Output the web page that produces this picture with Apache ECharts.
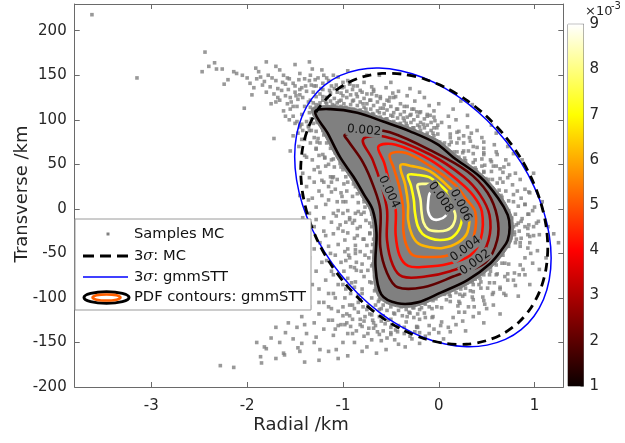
<!DOCTYPE html>
<html><head><meta charset="utf-8">
<script src="https://cdn.jsdelivr.net/npm/echarts@6/dist/echarts.min.js"></script>
<style>html,body{margin:0;padding:0;background:#fff}#c{width:625px;height:443px}</style>
</head><body><div id="c"></div>
<script>
// ---------------- data ----------------
const xTicks = [-3, -2, -1, 0, 1];
const yTicks = [-200, -150, -100, -50, 0, 50, 100, 150, 200];
const colorbarLevels = [1, 2, 3, 4, 5, 6, 7, 8, 9]; // x10^-3

// Monte Carlo samples (saturated core drawn as a region)
const samplesCore = [[-1.33,112],[-1.13,116],[-0.85,112],[-0.58,102],[-0.29,91],[0.0,77],[0.18,61],[0.46,38],[0.66,13],[0.76,-7],[0.78,-21],[0.76,-36],[0.7,-47],[0.57,-64],[0.32,-84],[0.03,-98],[-0.22,-109],[-0.44,-110],[-0.63,-99],[-0.69,-66],[-0.68,-27],[-0.72,-2],[-0.81,14],[-0.92,34],[-1.06,56],[-1.2,84]];
const samplesBand = [
[-1.34,114],[-1.34,122],[-1.31,119],[-1.31,131],[-1.28,117],[-1.28,126],[-1.28,138],[-1.24,119],[-1.24,129],[-1.21,122],[-1.21,134],[-1.17,118],[-1.17,125],[-1.17,147],[-1.13,121],[-1.13,130],[-1.09,116],[-1.09,124],[-1.09,135],[-1.06,119],[-1.06,131],[-1.02,115],[-1.02,122],[-1.02,130],[-0.99,118],[-0.99,137],[-0.96,113],[-0.96,125],[-0.96,132],[-0.92,117],[-0.92,128],[-0.89,112],[-0.89,122],[-0.89,138],[-0.85,116],[-0.85,126],[-0.82,111],[-0.82,120],[-0.82,133],[-0.78,114],[-0.78,124],[-0.75,108],[-0.75,118],[-0.75,129],[-0.71,112],[-0.71,122],[-0.68,106],[-0.68,116],[-0.68,132],[-0.64,110],[-0.64,120],[-0.61,103],[-0.61,113],[-0.61,126],[-0.57,107],[-0.57,117],[-0.54,101],[-0.54,111],[-0.54,122],[-0.5,105],[-0.5,115],[-0.47,98],[-0.47,108],[-0.47,125],[-0.43,102],[-0.43,112],[-0.4,96],[-0.4,106],[-0.4,118],[-0.36,99],[-0.36,109],[-0.33,93],[-0.33,103],[-0.33,115],[-0.29,97],[-0.29,106],[-0.26,91],[-0.26,100],[-0.26,112],[-0.22,94],[-0.22,104],[-0.19,88],[-0.19,97],[-0.19,109],[-0.15,91],[-0.15,101],[-0.12,85],[-0.12,94],[-0.12,106],[-0.08,88],[-0.08,97],[-0.05,82],[-0.05,91],[-0.05,103],[-0.01,84],[-0.01,94],
[0.06,74],[0.12,84],[0.13,75],[0.21,87],[0.12,64],[0.19,74],[0.19,64],[0.26,74],[0.34,85],[0.21,58],[0.26,65],[0.27,57],[0.36,70],[0.28,50],[0.36,62],[0.36,52],[0.47,68],[0.38,46],[0.45,56],[0.45,48],[0.40,41],[0.47,41],[0.55,53],[0.61,61],[0.49,34],[0.55,42],[0.56,33],[0.64,45],[0.56,23],[0.64,34],[0.63,21],[0.74,38],[0.66,13],[0.70,20],[0.73,9],[0.78,16],[0.73,-2],[0.83,3],
[0.80,-6],[0.94,-6],[0.76,-11],[0.87,-11],[0.83,-16],[1.02,-16],[0.78,-20],[0.90,-20],[0.84,-25],[0.75,-25],[0.79,-29],[0.93,-29],[0.75,-33],[0.86,-33],[0.80,-38],[0.95,-38],[0.73,-42],[0.85,-42],
[0.67,-52],[0.73,-62],[0.66,-61],[0.61,-55],[0.60,-63],[0.69,-76],[0.54,-66],[0.60,-74],[0.53,-74],[0.64,-90],[0.45,-71],[0.53,-83],[0.43,-78],[0.51,-89],[0.42,-85],[0.38,-79],[0.36,-85],[0.46,-99],[0.29,-83],[0.36,-93],[0.28,-89],[0.35,-99],[0.23,-90],[0.27,-96],[0.22,-96],[0.31,-110],[0.13,-91],[0.21,-104],[0.12,-98],[0.20,-109],[0.06,-96],[0.12,-104],
[-0.02,-98],[-0.02,-110],[-0.06,-103],[-0.06,-121],[-0.10,-100],[-0.10,-110],[-0.14,-107],[-0.14,-122],[-0.18,-111],[-0.18,-103],[-0.22,-107],[-0.22,-118],[-0.22,-133],[-0.26,-111],[-0.26,-122],[-0.30,-108],[-0.30,-117],[-0.34,-113],[-0.34,-127],[-0.38,-109],[-0.38,-120],[-0.42,-114],[-0.42,-131],[-0.46,-107],[-0.46,-118],[-0.50,-110],[-0.50,-124],[-0.54,-104],[-0.54,-114],[-0.58,-108],[-0.58,-120],[-0.62,-102],[-0.62,-113],
[-0.66,-90],[-0.80,-90],[-0.70,-83],[-0.91,-83],[-0.67,-76],[-0.78,-76],[-0.74,-69],[-0.86,-69],[-0.69,-62],[-0.80,-62],[-0.73,-55],[-0.93,-55],[-0.70,-48],[-0.82,-48],[-0.75,-41],[-0.87,-41],[-0.68,-34],[-0.79,-34],[-0.72,-27],[-0.95,-27],[-0.70,-20],[-0.82,-20],[-0.76,-13],[-0.88,-13],[-0.70,-6],[-0.81,-6],
[-0.77,2],[-0.87,-5],[-0.84,7],[-0.78,11],[-0.85,17],[-1.0,8],[-0.87,25],[-0.96,20],[-0.95,30],[-1.12,19],[-0.93,40],[-1.06,33],[-1.0,44],[-1.13,36],[-1.09,47],[-1.03,51],[-1.10,56],[-1.26,47],[-1.10,68],[-1.21,61],[-1.17,74],[-1.28,67],[-1.20,83],[-1.26,79],[-1.28,87],[-1.43,78],[-1.27,97],[-1.36,92],[-1.33,101],[-1.45,94],
[-0.66,-108],[-0.7,-100],[-0.75,-113],[-0.8,-95],[-0.84,-105],[-0.77,-121],[-0.88,-112],[-0.93,-120],[-0.69,-125],[-0.62,-121],[-0.56,-129],[-0.82,-130],[-0.96,-128],[-0.73,-134],[-1.0,-110],[-0.9,-140],[-0.64,-138],[-0.5,-139]
];
const samplesNearCore = [
[-1.25,116],[-1.21,126],[-1.18,120],[-1.14,133],[-1.11,117],[-1.07,139],[-1.04,121],[-1.0,127],[-0.97,114],[-0.93,141],[-0.9,121],[-0.86,129],[-0.83,110],[-0.79,118],[-0.76,112],[-0.72,122],[-0.69,107],[-0.65,127],[-0.62,108],[-0.58,113],[-0.55,101],[-0.51,125],[-0.48,104],[-0.44,112],[-0.41,95],[-0.37,102],[-0.34,96],[-0.3,105],[-0.27,91],[-0.23,109],[-0.2,92],[-0.16,95],[-0.13,83],[-0.09,105],[-0.06,85],[-0.02,91],[0.01,75],[0.12,80],[0.11,72],[0.21,79],[0.16,64],[0.32,80],[0.25,63],[0.31,65],[0.28,54],[0.47,75],[0.38,55],[0.47,61],[0.39,44],[0.48,49],[0.47,42],[0.57,48],[0.52,33],[0.68,47],[0.61,29],[0.67,30],[0.65,15],[0.94,19],[0.78,8],[0.9,5],
[0.76,-10],[0.86,-14],[0.81,-18],[0.93,-22],[0.79,-26],[0.99,-30],[0.81,-34],[0.85,-38],[0.72,-42],[0.84,-74],[0.69,-61],[0.72,-73],[0.58,-61],[0.61,-73],[0.54,-70],[0.58,-83],[0.47,-74],[0.57,-94],[0.44,-82],[0.44,-89],[0.35,-82],[0.48,-107],[0.33,-92],[0.36,-102],[0.22,-88],[0.25,-98],[0.18,-94],[0.22,-106],[0.11,-96],[0.21,-116],[0.08,-102],
[0.03,-111],[-0.03,-101],[0.02,-131],[-0.07,-112],[-0.07,-122],[-0.15,-106],[-0.15,-117],[-0.2,-113],[-0.2,-124],[-0.27,-111],[-0.23,-133],[-0.31,-116],[-0.33,-121],[-0.39,-110],[-0.43,-138],[-0.47,-117],[-0.53,-125],[-0.53,-105],[-0.6,-112],[-0.63,-104],[-0.74,-109],[-0.67,-92],[-0.82,-102],[-0.72,-82],
[-0.81,-70],[-0.7,-64],[-0.97,-58],[-0.77,-52],[-0.87,-46],[-0.69,-40],[-0.78,-34],[-0.72,-28],[-0.85,-22],[-0.72,-16],[-0.93,-10],[-0.78,-4],[-0.84,-3],[-0.78,8],[-1.05,-2],[-0.9,14],[-1.01,14],[-0.89,28],[-0.99,28],[-0.97,36],[-1.11,35],[-1.02,47],[-1.24,41],[-1.12,55],[-1.19,57],[-1.13,68],[-1.38,58],[-1.24,74],[-1.34,74],[-1.21,88],[-1.33,88],[-1.31,96],[-1.43,95],
[-0.72,-118],[-0.78,-126],[-0.66,-131],[-0.58,-137],[-0.5,-133],[-0.62,-141],[-0.84,-116],[-0.9,-124],[-0.86,-137],[-0.96,-118],[-1.02,-130],[-0.74,-140],[-0.54,-145],[-0.36,-140],[-0.28,-146],[-0.14,-143],[-0.9,-108],[-0.98,-130],[-1.08,-135],[-1.12,-112],[-0.8,-132],[-0.7,-147],[-0.46,-147],[-0.2,-139],[0.0,-139],[0.12,-138]
];
const samplesOuter = [
[-1.45,128],[-1.33,139],[-1.21,141],[-1.12,138],[-1.01,136],[-0.9,134],[-0.8,131],[-0.7,129],[-0.61,124],[-0.52,121],[-0.45,126],[-0.36,115],[-0.28,112],[-0.2,108],[-0.12,104],[-0.04,99],[0.03,97],[0.11,92],[0.19,86],[0.26,82],[0.33,76],[0.4,69],[0.47,63],[0.54,55],[0.6,48],[0.67,41],[0.72,35],[0.77,27],[0.82,20],[0.86,12],[0.9,5],[0.93,-6],[0.94,-18],[0.95,-31],[0.93,-44],[0.9,-55],[0.85,-63],[0.79,-72],[0.72,-80],[0.64,-88],[0.56,-96],[0.47,-103],[0.37,-110],[0.27,-116],[0.15,-122],[0.03,-127],[-0.1,-131],[-0.23,-132],[-0.36,-133],[-0.49,-130],[-0.6,-126],[-0.7,-119],[-0.79,-110],[-0.84,-97],[-0.87,-82],[-0.88,-66],[-0.87,-50],[-0.88,-33],[-0.9,-16],[-0.95,-2],[-1.02,18],[-1.1,36],[-1.19,58],[-1.27,75],[-1.36,93],[-1.43,106],
[-1.55,125],[-1.5,138],[-1.4,146],[-1.05,148],[-0.78,142],[-0.55,136],[-0.33,127],[-0.1,116],[0.1,104],[0.3,92],[0.45,80],[0.6,64],[0.73,50],[0.85,33],[0.95,18],[1.0,2],[1.04,-14],[1.05,-29],[1.03,-47],[0.98,-61],[0.9,-74],[0.8,-86],[0.7,-97],[0.57,-108],[0.42,-117],[0.25,-126],[0.1,-133],[-0.1,-140],[-0.3,-143],[-0.5,-141],[-0.68,-134],[-0.82,-124],[-0.93,-108],[-0.97,-90],[-0.99,-70],[-0.98,-48],[-1.0,-25],[-1.07,-8],[-1.15,10],[-1.22,32],[-1.32,55],[-1.4,78],[-1.5,96],
[-1.6,104],[-1.22,156],[-0.62,150],[-0.2,131],[0.23,121],[0.35,117],[0.55,94],[0.72,70],[0.87,55],[0.99,40],[1.08,8],[1.14,-20],[1.2,-28],[1.25,-38],[1.12,-55],[1.05,-68],[0.95,-85],[0.83,-98],[0.64,-118],[0.47,-128],[0.28,-137],[0.05,-146],[-0.2,-151],[-0.42,-152],[-0.6,-148],[-0.78,-143],[-0.92,-132],[-1.05,-115],[-1.1,-95],[-1.1,-74],[-1.13,-50],[-1.18,-30],[-1.28,-12],[-1.32,12],[-1.42,40],[-1.55,65],[-1.72,79],[-1.66,122],[-2.03,113],
[-0.95,-140],[-1.0,-150],[-1.05,-131],[-1.1,-142],[-1.15,-125],[-1.2,-135],[-1.25,-118],[-1.3,-128],[-1.35,-110],[-1.38,-140],[-1.43,-121],[-1.48,-133],[-1.52,-146],[-1.57,-128],[-1.6,-139],[-1.66,-150],[-1.7,-133],[-1.75,-145],[-1.8,-157],[-1.9,-150],[-1.15,-160],[-1.3,-150],[-1.2,-105],[-1.0,-120],[-0.88,-150],[-0.75,-155],[-1.45,-160],[-1.62,-162],
[-2.28,-176],[-2.14,-178],[-1.86,-166],[-1.85,-173],[-1.82,-155],[-1.61,-164],[-1.47,-156],[-1.43,-151],[-1.4,-130],[-1.28,-144],[-1.24,-158],[-1.11,-125],[-1.07,-158],
[-3.62,218],[-3.15,147],[-2.44,176],[-2.47,154],[-2.34,164],[-2.32,157],[-2.26,157],[-2.24,140],[-2.14,154],[-2.11,152],[-1.93,136],[-1.91,158],[-1.88,154],[-1.86,148],[-1.82,143],[-1.76,137],[-1.66,156],[-1.63,142],[-1.57,134],[-1.32,157],
[-2.0,147],[-1.97,141],[-1.78,150],[-1.72,129],[-1.7,144],[-1.68,135],[-1.6,127],[-1.58,147],[-1.54,120],[-1.52,141],[-1.5,131],[-1.47,123],[-1.46,145],[-1.43,136],[-1.4,115],[-1.38,132],[-1.35,144],[-1.3,138],[-1.26,147],[-1.2,150],[-1.15,144],[-1.1,150],[-1.0,142],[-0.93,140],[-0.85,138],[-0.68,134],[-0.48,130],
[-1.55,112],[-1.52,104],[-1.48,98],[-1.45,92],[-1.58,118],[-1.62,110],[-1.42,88],[-1.47,85],[-1.38,98],[-1.35,88],[-1.3,80],[-1.28,68],[-1.25,60],[-1.18,48],[-1.12,30],[-1.08,22],
[-0.86,-60],[-0.94,-52],[-0.85,-30],[-0.93,-12],[-0.97,8],[-1.05,-40],[-1.02,-60],[-0.95,-78],[-0.92,-95],[-1.2,-10],[-1.25,20],[-1.17,-58],[-1.05,-85],[-0.98,-100],[-0.68,-128],[-0.45,-136],[-0.25,-138],[-0.05,-135],[0.18,-130],[0.36,-121],[0.5,-112],[0.68,-95],[0.78,-80],[0.88,-68],[0.96,-50],[0.99,-20],[0.98,-2],[0.9,22],[0.8,40],[0.7,55],[0.58,72],[0.4,88],[0.18,100],[-0.05,110],[-0.25,121],[-0.42,132],[-0.7,137],[-0.95,144],
[-1.95,128],[-1.9,146],[-1.84,139],[-1.8,131],[-1.74,147],[-1.7,120],[-1.64,133],[-1.6,140],[-1.56,146],[-1.52,115],[-1.49,127],[-1.45,134],[-1.42,125],[-1.39,138],[-1.36,120],[-1.34,150],[-1.29,145],[-1.23,135],[-1.17,125],[-1.62,150],[-1.68,125],[-1.75,118],[-2.05,150],[-2.2,145],[-2.4,160],[-1.45,152],
[-0.98,-35],[-1.03,-18],[-1.1,-28],[-1.15,-42],[-1.08,-52],[-1.2,-25],[-1.24,-38],[-1.12,-70],[-1.22,-60],[-1.3,-45],[-1.18,-80],[-1.28,-70],[-1.35,-55],[-1.25,-90],[-1.15,-95],[-1.32,-85],[-1.4,-30],[-1.35,-5],[-1.3,-20],[-1.18,5],[-1.1,-5],[-1.22,15],[-1.15,25],[-1.3,30],[-1.38,25],[-1.45,15],[-1.2,30],[-1.06,8],[-1.0,-5],[-0.95,-45],[-0.92,-65],[-1.0,-85],[-0.88,-88],[-1.08,-100],[-1.15,-110],[-1.25,-105],[-0.97,-15],[-1.05,-22],[-1.12,-15],[-1.28,2],[-1.36,10],[-1.42,-10],[-1.08,63],[-1.15,50],[-1.3,44],[-1.35,35],[-1.4,60],[-1.46,70],[-1.52,82],[-1.35,108],[-1.48,115],[-1.56,100],
[-0.35,-155],[-0.55,-158],[-0.8,-160],[-0.95,-165],[-0.65,-162],[-1.05,-168],[-1.25,-170],[-1.4,-172],[-1.7,-168],
[-0.3,135],[-0.15,125],[0.0,118],[0.15,112],[-0.5,142],[-0.75,150],[-0.95,155],[-1.35,165],[-1.5,162],[-1.7,160],[-1.8,165],[0.3,105],[0.6,85],[0.78,62]
];

// 3-sigma boundaries
const sigmaMC = [[1.138,-43.7],[1.118,-68.3],[1.060,-90.9],[0.965,-110.7],[0.836,-127.2],[0.677,-139.8],[0.493,-148.1],[0.290,-152.0],[0.072,-151.2],[-0.151,-145.8],[-0.375,-136.0],[-0.592,-122.1],[-0.796,-104.5],[-0.980,-83.6],[-1.139,-60.3],[-1.268,-35.1],[-1.363,-8.8],[-1.421,17.7],[-1.441,43.7],[-1.421,68.3],[-1.363,90.9],[-1.268,110.7],[-1.139,127.2],[-0.980,139.8],[-0.796,148.1],[-0.592,152.0],[-0.375,151.2],[-0.151,145.8],[0.072,136.0],[0.290,122.1],[0.493,104.5],[0.677,83.6],[0.836,60.3],[0.965,35.1],[1.060,8.8],[1.118,-17.7]];
const sigmaGmmSTT = [[1.173,-55.3],[1.153,-79.7],[1.093,-101.7],[0.994,-120.5],[0.860,-135.6],[0.695,-146.6],[0.504,-153.0],[0.292,-154.8],[0.067,-151.8],[-0.166,-144.1],[-0.398,-132.0],[-0.623,-115.9],[-0.835,-96.2],[-1.026,-73.5],[-1.191,-48.5],[-1.325,-22.0],[-1.424,5.2],[-1.484,32.4],[-1.504,58.5],[-1.484,83.0],[-1.424,104.9],[-1.325,123.8],[-1.191,138.9],[-1.026,149.8],[-0.835,156.3],[-0.623,158.1],[-0.398,155.0],[-0.166,147.4],[0.067,135.3],[0.292,119.2],[0.504,99.4],[0.695,76.7],[0.860,51.8],[0.994,25.3],[1.093,-2.0],[1.153,-29.1]];

// PDF contours (gmmSTT), levels 1..9 x10^-3
const pdfLevel1 = [[-1.29,109],[-1.13,112],[-0.85,108],[-0.58,98],[-0.30,87],[-0.02,73],[0.15,58],[0.43,36],[0.62,12],[0.72,-7],[0.74,-21],[0.72,-35],[0.67,-44],[0.54,-61],[0.30,-80],[0.02,-94],[-0.22,-105],[-0.43,-106],[-0.60,-96],[-0.66,-65],[-0.65,-27],[-0.69,-1],[-0.78,16],[-0.89,36],[-1.03,58],[-1.16,85]];
const pdfLevel2 = [[-0.98,83],[-0.72,88],[-0.51,86],[-0.09,66],[0.30,42],[0.51,18],[0.61,-9],[0.61,-35],[0.49,-60],[0.15,-76],[-0.16,-88],[-0.43,-88],[-0.54,-72],[-0.61,-43],[-0.61,-1],[-0.68,25],[-0.79,52],[-0.95,77]];
const pdfLevel3 = [[-0.79,78],[-0.56,81],[-0.09,61],[0.26,36],[0.43,16],[0.53,-7],[0.52,-35],[0.40,-57],[0.12,-70],[-0.14,-76],[-0.38,-76],[-0.48,-63],[-0.54,-35],[-0.54,-1],[-0.60,27],[-0.69,55]];
const pdfLevel4 = [[-0.63,70],[-0.45,72],[-0.09,55],[0.22,30],[0.36,15],[0.45,-3],[0.44,-33],[0.33,-52],[0.09,-62],[-0.14,-65],[-0.32,-64],[-0.41,-52],[-0.45,-29],[-0.45,-1],[-0.51,27],[-0.57,52]];
const pdfLevel5 = [[-0.51,61],[-0.35,63],[-0.09,48],[0.17,27],[0.28,12],[0.38,-3],[0.37,-29],[0.28,-44],[0.07,-53],[-0.11,-54],[-0.27,-52],[-0.34,-40],[-0.37,-24],[-0.37,-1],[-0.41,24],[-0.47,46]];
const pdfLevel6 = [[-0.40,49],[-0.28,48],[-0.09,42],[0.14,21],[0.23,10],[0.31,-3],[0.30,-26],[0.20,-38],[0.04,-44],[-0.09,-43],[-0.21,-39],[-0.28,-29],[-0.32,-12],[-0.32,5],[-0.35,27]];
const pdfLevel7 = [[-0.32,38],[-0.21,38],[-0.09,35],[0.10,18],[0.17,7],[0.24,-5],[0.22,-21],[0.14,-32],[0.02,-35],[-0.09,-33],[-0.17,-28],[-0.22,-19],[-0.25,-3],[-0.26,10],[-0.29,26]];
const pdfLevel8 = [[-0.22,27],[-0.14,28],[-0.07,27],[0.07,14],[0.17,-5],[0.15,-18],[0.08,-24],[-0.03,-25],[-0.11,-23],[-0.16,-15],[-0.18,-3],[-0.19,10],[-0.21,19]];
const pdfLevel9 = [[-0.09,18],[-0.03,16],[0.05,10],[0.09,-1],[0.07,-8],[0.00,-12],[-0.07,-11],[-0.11,-3],[-0.11,8]];

// contour labels: [x, y, text]
const contourLabels = [[-0.78,88,'0.002'],[-0.52,19,'0.004'],[0.02,13,'0.008'],[0.23,4,'0.006'],[0.28,-45,'0.004'],[0.38,-60,'0.002']];

// ---------------- styling ----------------
const FONT = '"DejaVu Sans", "Liberation Sans", sans-serif';
const TXT = '#262626';
const AX = '#6a6a6a';
const GRAY = '#808080';
const contourAngles = [-5, -65, -55, -63, 36, 36];
// MATLAB hot(64) colour for each level within CLim [1,9]
function hot(level) {
  const idx = Math.min(64, Math.floor((level - 1) / 8 * 64) + 1);
  const r = Math.min(1, idx / 24), g = Math.max(0, Math.min(1, (idx - 24) / 24)), b = Math.max(0, (idx - 48) / 16);
  const h = v => ('0' + Math.round(v * 255).toString(16)).slice(-2);
  return '#' + h(r) + h(g) + h(b);
}
const pdfLevels = [pdfLevel1, pdfLevel2, pdfLevel3, pdfLevel4, pdfLevel5, pdfLevel6, pdfLevel7, pdfLevel8, pdfLevel9];

function polySeries(name, pts, style, z, smooth) {
  return {
    type: 'custom', name, xAxisIndex: 0, yAxisIndex: 0, z, silent: true,
    data: [[0, 0]],
    renderItem: (params, api) => ({
      type: 'polygon',
      shape: { points: pts.map(p => api.coord(p)), smooth: smooth },
      style
    })
  };
}

const series = [];
series.push(polySeries('core', samplesCore, { fill: GRAY, stroke: GRAY, lineWidth: 1 }, 1, 0.3));
series.push({
  type: 'scatter', name: 'Samples MC', xAxisIndex: 0, yAxisIndex: 0, data: samplesBand.concat(samplesNearCore, samplesOuter),
  symbol: 'rect', symbolSize: 3.6, itemStyle: { color: GRAY }, z: 1, silent: true, large: false
});
pdfLevels.forEach((pts, i) => {
  series.push(polySeries('pdf' + (i + 1), pts, { fill: 'none', stroke: hot(colorbarLevels[i]), lineWidth: 2.6 }, 3, 0.35));
});
series.push(polySeries('3sigma gmmSTT', sigmaGmmSTT, { fill: 'none', stroke: '#0000ff', lineWidth: 1.5 }, 4, 0.3));
series.push(polySeries('3sigma MC', sigmaMC, { fill: 'none', stroke: '#000000', lineWidth: 2.8, lineDash: [9, 6] }, 5, 0.3));
series.push({
  type: 'custom', name: 'labels', xAxisIndex: 0, yAxisIndex: 0, z: 6, silent: true,
  data: contourLabels.map(l => [l[0], l[1]]),
  renderItem: (params, api) => {
    const i = params.dataIndex;
    const c = api.coord([api.value(0), api.value(1)]);
    return {
      type: 'text', x: c[0], y: c[1], rotation: contourAngles[i] * Math.PI / 180,
      style: { text: contourLabels[i][2], fill: '#111', font: '12px ' + FONT,
        align: 'center', verticalAlign: 'middle', textAlign: 'center', textVerticalAlign: 'middle',
        backgroundColor: GRAY, padding: [0, 1] }
    };
  }
});
// colorbar
series.push({ type: 'bar', xAxisIndex: 2, yAxisIndex: 2, stack: 'cb', data: [colorbarLevels[0]], barWidth: '100%', itemStyle: { color: 'transparent' }, silent: true });
series.push({ type: 'bar', xAxisIndex: 2, yAxisIndex: 2, stack: 'cb', data: [colorbarLevels[8] - colorbarLevels[0]], barWidth: '100%', silent: true,
  itemStyle: { color: new echarts.graphic.LinearGradient(0, 0, 0, 1, [
    { offset: 0, color: '#ffffff' }, { offset: 0.25, color: '#ffff00' }, { offset: 0.625, color: '#ff0000' }, { offset: 1, color: '#0b0000' }]) } });

const axisCommon = {
  axisLine: { show: true, onZero: false, lineStyle: { color: AX, width: 1 } },
  splitLine: { show: false }
};
const tickX = { show: true, inside: true, length: 5, customValues: xTicks, lineStyle: { color: AX } };
const tickY = { show: true, inside: true, length: 5, customValues: yTicks, lineStyle: { color: AX } };
const lab = { fontFamily: FONT, fontSize: 15, color: TXT };

const option = {
  animation: false,
  grid: [
    { left: 74.7, right: 61.7, top: 4, bottom: 56 },
    { left: 568, top: 24.3, width: 15.5, height: 361.7, show: true, borderColor: AX, borderWidth: 1 }
  ],
  xAxis: [
    Object.assign({ type: 'value', gridIndex: 0, min: -3.8, max: 1.3, position: 'bottom', axisTick: tickX,
      axisLabel: Object.assign({ margin: 12, customValues: xTicks }, lab) }, axisCommon),
    Object.assign({ type: 'value', gridIndex: 0, min: -3.8, max: 1.3, position: 'top', axisTick: tickX,
      axisLabel: { show: false } }, axisCommon),
    { type: 'category', gridIndex: 1, data: ['cb'], show: false }
  ],
  yAxis: [
    Object.assign({ type: 'value', gridIndex: 0, min: -200, max: 230, position: 'left', axisTick: tickY,
      axisLabel: Object.assign({ margin: 8, customValues: yTicks }, lab) }, axisCommon),
    Object.assign({ type: 'value', gridIndex: 0, min: -200, max: 230, position: 'right', axisTick: tickY,
      axisLabel: { show: false } }, axisCommon),
    { type: 'value', gridIndex: 1, min: 1, max: 9, interval: 1, position: 'right',
      axisLine: { show: true, lineStyle: { color: AX } },
      axisTick: { show: true, inside: true, length: 3, lineStyle: { color: AX } },
      axisLabel: Object.assign({ margin: 6 }, lab), splitLine: { show: false } }
  ],
  series,
  graphic: [
    { type: 'text', x: 301, y: 425, z: 50, style: { text: 'Radial /km', font: '18px ' + FONT, fill: TXT, align: 'center', verticalAlign: 'middle', textAlign: 'center', textVerticalAlign: 'middle' } },
    { type: 'text', x: 22, y: 194, rotation: Math.PI / 2, z: 50, style: { text: 'Transverse /km', font: '18px ' + FONT, fill: TXT, align: 'center', verticalAlign: 'middle', textAlign: 'center', textVerticalAlign: 'middle' } },
    { type: 'text', x: 585, y: 12, z: 50, style: { text: '×10', font: '13px ' + FONT, fill: TXT, align: 'left', verticalAlign: 'middle', textAlign: 'left', textVerticalAlign: 'middle' } },
    { type: 'text', x: 611, y: 6, z: 50, style: { text: '-3', font: '10px ' + FONT, fill: TXT, align: 'left', verticalAlign: 'middle', textAlign: 'left', textVerticalAlign: 'middle' } },
    // legend
    { type: 'rect', z: 60, shape: { x: 75, y: 219, width: 236, height: 91 }, style: { fill: '#ffffff', stroke: '#9a9a9a', lineWidth: 1 } },
    { type: 'rect', z: 61, shape: { x: 106.5, y: 232.5, width: 3, height: 3 }, style: { fill: GRAY } },
    { type: 'line', z: 61, shape: { x1: 83, y1: 256, x2: 128, y2: 256 }, style: { stroke: '#000', lineWidth: 3, lineDash: [11, 6] } },
    { type: 'line', z: 61, shape: { x1: 83, y1: 277, x2: 128, y2: 277 }, style: { stroke: '#0000ff', lineWidth: 1.5 } },
    { type: 'ellipse', z: 61, shape: { cx: 106.5, cy: 297.5, rx: 22.5, ry: 5.8 }, style: { fill: '#fff', stroke: '#000', lineWidth: 3 } },
    { type: 'ellipse', z: 62, shape: { cx: 106.5, cy: 297.5, rx: 14, ry: 3 }, style: { fill: '#fff', stroke: '#ff6000', lineWidth: 2.5 } },
    { type: 'text', x: 134, y: 234, z: 62, style: { text: 'Samples MC', font: '14.7px ' + FONT, fill: '#111', align: 'left', verticalAlign: 'middle', textAlign: 'left', textVerticalAlign: 'middle' } },
    { type: 'text', x: 134, y: 256, z: 62, style: { text: '3{s|σ}: MC', font: '14.7px ' + FONT, fill: '#111', align: 'left', verticalAlign: 'middle', textAlign: 'left', textVerticalAlign: 'middle',
      rich: { s: { fontStyle: 'italic', fontFamily: 'DejaVu Serif', fontSize: 14.7, fill: '#111' } } } },
    { type: 'text', x: 134, y: 277, z: 62, style: { text: '3{s|σ}: gmmSTT', font: '14.7px ' + FONT, fill: '#111', align: 'left', verticalAlign: 'middle', textAlign: 'left', textVerticalAlign: 'middle',
      rich: { s: { fontStyle: 'italic', fontFamily: 'DejaVu Serif', fontSize: 14.7, fill: '#111' } } } },
    { type: 'text', x: 134, y: 297, z: 62, style: { text: 'PDF contours: gmmSTT', font: '14.7px ' + FONT, fill: '#111', align: 'left', verticalAlign: 'middle', textAlign: 'left', textVerticalAlign: 'middle' } }
  ]
};
const chart = echarts.init(document.getElementById('c'), null, { renderer: 'canvas' });
chart.setOption(option);
</script>
</body></html>
